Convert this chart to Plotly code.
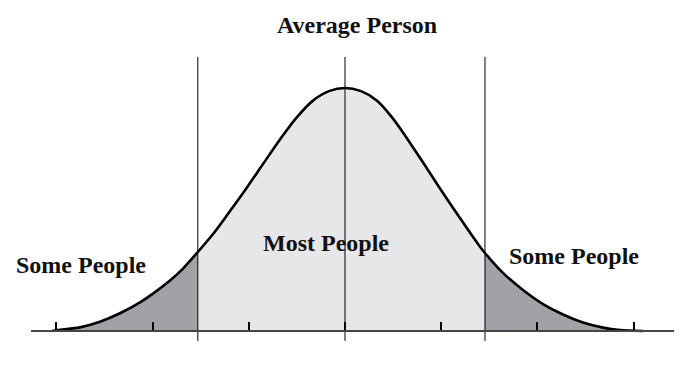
import plotly.graph_objects as go

# Curve: x in standard deviations, y relative height (peak = 1)
curve_x = [-3.046, -2.963, -2.755, -2.547, -2.339, -2.131, -1.996, -1.819, -1.684, -1.53,
           -1.372, -1.195, -1.019, -0.852, -0.676, -0.499, -0.333, -0.167, 0.0,
           0.167, 0.333, 0.499, 0.676, 0.852, 1.019, 1.195, 1.372, 1.455, 1.642,
           1.850, 2.058, 2.266, 2.474, 2.682, 2.859, 3.098]
curve_y = [0.000, 0.005, 0.015, 0.038, 0.073, 0.118, 0.154, 0.208, 0.257, 0.325,
           0.399, 0.494, 0.591, 0.687, 0.788, 0.880, 0.948, 0.987, 1.0,
           0.987, 0.948, 0.874, 0.774, 0.669, 0.568, 0.465, 0.364, 0.321, 0.239,
           0.169, 0.111, 0.068, 0.035, 0.014, 0.004, 0.000]

cut_left = -1.53
cut_mean = 0.0
cut_right = 1.455
tick_values = [-3, -2, -1, 0, 1, 2, 3]

title_text = "Average Person"
middle_label = "Most People"
tail_label = "Some People"

DARK = "#a0a2a8"
LIGHT = "#e7e7e9"
INK = "#111111"
FONT = "Liberation Serif"

W, H = 693, 371

def subset(lo, hi):
    xs, ys = [], []
    for x, y in zip(curve_x, curve_y):
        if lo <= x <= hi:
            xs.append(x)
            ys.append(y)
    return xs, ys

fig = go.Figure()

for lo, hi, col in [(-10, cut_left, DARK), (cut_left, cut_right, LIGHT), (cut_right, 10, DARK)]:
    xs, ys = subset(lo, hi)
    fig.add_trace(go.Scatter(x=xs, y=ys, mode="lines", line=dict(width=0, shape="spline", smoothing=1.0),
                             fill="tozeroy", fillcolor=col, hoverinfo="skip", showlegend=False))

# vertical divider lines
v_top, v_bot = 1.128, -0.041
vx, vy = [], []
for c in [cut_left, cut_mean, cut_right]:
    vx += [c, c, None]
    vy += [v_bot, v_top, None]
fig.add_trace(go.Scatter(x=vx, y=vy, mode="lines", line=dict(color="#000000", width=1),
                         hoverinfo="skip", showlegend=False))

fig.add_trace(go.Scatter(x=curve_x, y=curve_y, mode="lines",
                         line=dict(color="#000000", width=2.6, shape="spline", smoothing=1.0),
                         hoverinfo="skip", showlegend=False))

def ann(text, px, py):
    return dict(text="<b>%s</b>" % text, x=px / W, y=1 - py / H, xref="paper", yref="paper",
                xanchor="center", yanchor="middle", showarrow=False,
                font=dict(family=FONT, size=24, color=INK))

fig.update_layout(
    width=W, height=H,
    margin=dict(l=0, r=0, t=0, b=0),
    paper_bgcolor="white", plot_bgcolor="white",
    xaxis=dict(domain=[31 / W, 674 / W], range=[-3.264, 3.42], anchor="free", position=40 / H,
               showline=True, linecolor="#444444", linewidth=1.6,
               tickvals=tick_values, ticks="inside", ticklen=8, tickwidth=2, tickcolor="#000000",
               showticklabels=False, showgrid=False, zeroline=False, fixedrange=True),
    yaxis=dict(domain=[0, 1], range=[-40 / 243, 331 / 243], visible=False,
               showgrid=False, zeroline=False, fixedrange=True),
    annotations=[
        ann(title_text, 357, 25),
        ann(middle_label, 326, 243),
        ann(tail_label, 81, 265),
        ann(tail_label, 574, 256),
    ],
)

fig.write_html("out.html")
